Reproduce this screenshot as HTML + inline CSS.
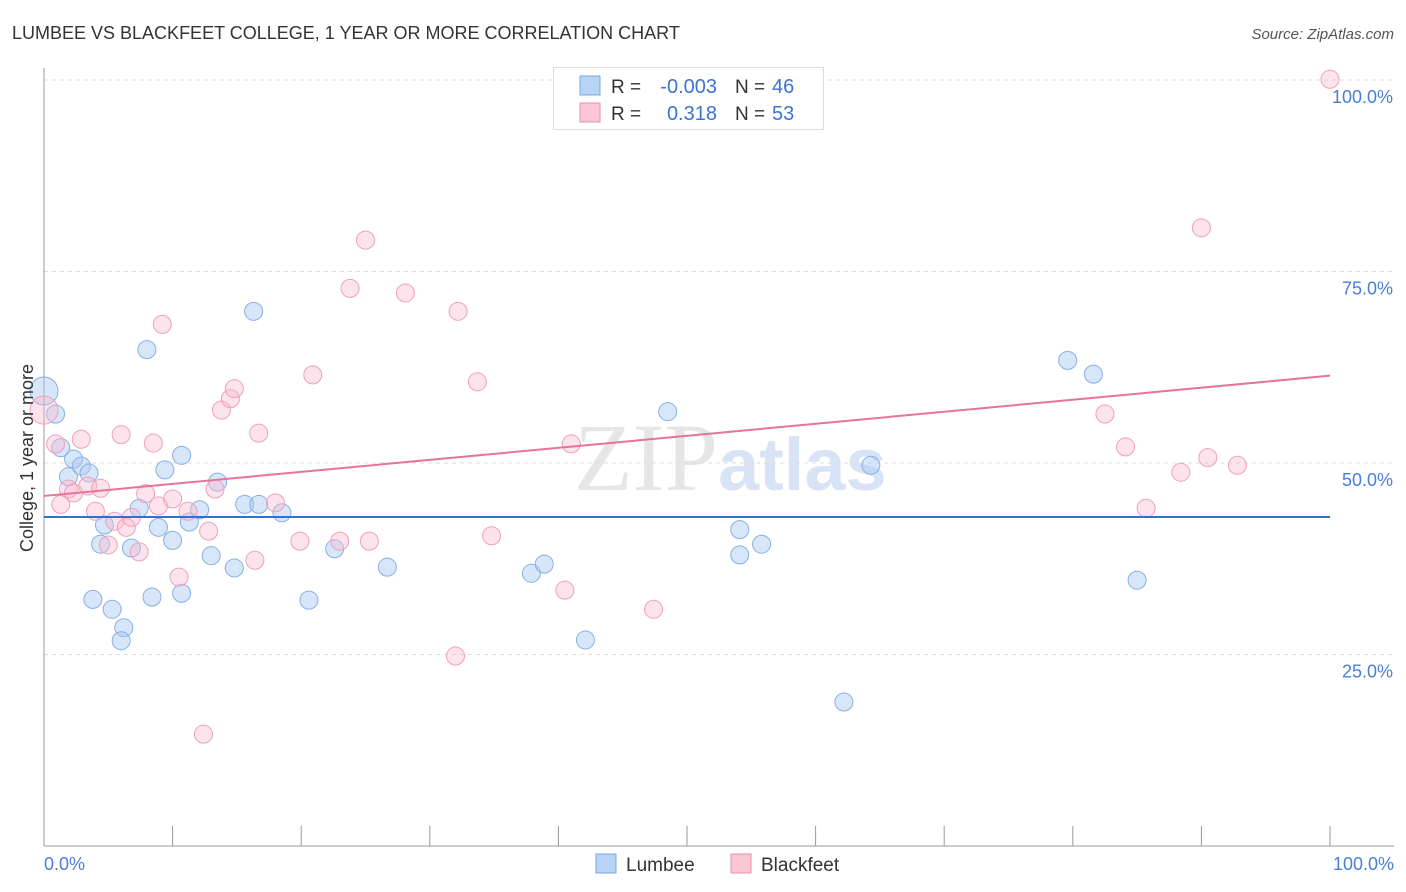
<!DOCTYPE html>
<html><head><meta charset="utf-8"><style>
body{margin:0;background:#fff;font-family:"Liberation Sans",sans-serif;}
svg{display:block}
</style></head><body>
<svg id="chart" width="1406" height="892">
<text x="12" y="39" font-size="18" fill="#333">LUMBEE VS BLACKFEET COLLEGE, 1 YEAR OR MORE CORRELATION CHART</text>
<text x="1394" y="39" font-size="15" fill="#555" font-style="italic" text-anchor="end">Source: ZipAtlas.com</text>
<text x="718" y="490" font-size="96" fill="#e6e6e6" text-anchor="end" font-family="Liberation Serif,serif">ZIP</text>
<text x="718" y="490" font-size="74" fill="#d8e4f5" font-weight="bold">atlas</text>
<g id="grid"></g>
<g id="axes"></g>
<g id="marks"></g>
<text x="33" y="458" font-size="18" fill="#333" text-anchor="middle" transform="rotate(-90 33 458)">College, 1 year or more</text>
<text x="44" y="870" font-size="18" fill="#4a7fd4">0.0%</text>
<text x="1394" y="870" font-size="18" fill="#4a7fd4" text-anchor="end">100.0%</text>
<g>
<rect x="553.5" y="67.5" width="270" height="62" fill="#fff" stroke="#ddd"/>
<rect x="580" y="76" width="20" height="19" fill="#b9d3f5" stroke="#7aa7e0"/>
<rect x="580" y="103" width="20" height="19" fill="#fbc7d6" stroke="#eb8fae"/>
<text x="611" y="93" font-size="19" fill="#333">R =</text>
<text x="717" y="93" font-size="20" fill="#3d73d0" text-anchor="end">-0.003</text>
<text x="735" y="93" font-size="19" fill="#333">N =</text>
<text x="772" y="93" font-size="20" fill="#3d73d0">46</text>
<text x="611" y="120" font-size="19" fill="#333">R =</text>
<text x="717" y="120" font-size="20" fill="#3d73d0" text-anchor="end">0.318</text>
<text x="735" y="120" font-size="19" fill="#333">N =</text>
<text x="772" y="120" font-size="20" fill="#3d73d0">53</text>
</g>
<g>
<rect x="596" y="854" width="20" height="19" fill="#b9d3f5" stroke="#7aa7e0"/>
<text x="626" y="871" font-size="19" fill="#333">Lumbee</text>
<rect x="731" y="854" width="20" height="19" fill="#fbc7d6" stroke="#eb8fae"/>
<text x="761" y="871" font-size="19" fill="#333">Blackfeet</text>
</g>
</svg>
<script>
const yTicks=[25,50,75,100];
const yTickLabels=["25.0%","50.0%","75.0%","100.0%"];
const xTickCount=10;
const lumbeeX=[0,0.9,1.3,2.3,1.9,2.9,3.5,4.4,4.7,3.8,5.3,6.2,6.0,6.8,7.4,8.0,8.4,8.9,9.4,10.0,10.7,10.7,11.3,12.1,13.0,13.5,14.8,15.6,16.3,16.7,18.5,20.6,22.6,26.7,37.9,38.9,42.1,48.5,54.1,54.1,55.8,62.2,64.3,79.6,81.6,85.0];
const lumbeeY=[59.4,56.4,52.0,50.5,48.2,49.6,48.7,39.4,41.9,32.2,30.9,28.5,26.8,38.9,44.1,64.8,32.5,41.6,49.1,39.9,33.0,51.0,42.3,43.9,37.9,47.5,36.3,44.6,69.8,44.6,43.5,32.1,38.8,36.4,35.6,36.8,26.9,56.7,41.3,38.0,39.4,18.8,49.7,63.4,61.6,34.7];
const blackfeetX=[0,0.9,1.3,1.9,2.3,2.9,3.4,4.0,4.4,5.0,5.5,6.0,6.4,6.8,7.4,7.9,8.5,8.9,9.2,10.0,10.5,11.2,12.4,12.8,13.3,13.8,14.5,14.8,16.4,16.7,18.0,19.9,20.9,23.0,23.8,25.0,25.3,28.1,32.0,32.2,33.7,34.8,40.5,41.0,47.4,82.5,84.1,85.7,88.4,90.0,90.5,92.8,100];
const blackfeetY=[56.9,52.5,44.6,46.6,46.1,53.1,47.0,43.7,46.7,39.3,42.4,53.7,41.6,42.9,38.4,46.0,52.6,44.4,68.1,45.3,35.1,43.7,14.6,41.1,46.6,56.9,58.4,59.7,37.3,53.9,44.8,39.8,61.5,39.8,72.8,79.1,39.8,72.2,24.8,69.8,60.6,40.5,33.4,52.5,30.9,56.4,52.1,44.1,48.8,80.7,50.7,49.7,100.1];
const lumbeeTrend=[42.95,42.95];
const blackfeetTrend=[45.7,61.4];
const NS="http://www.w3.org/2000/svg";
const X0=44,X1=1330,Y0=846,Y100=80;
function sx(v){return X0+(X1-X0)*v/100;}
function sy(v){return Y0-(Y0-Y100)*v/100;}
function mk(tag,attrs,parent){const e=document.createElementNS(NS,tag);for(const k in attrs)e.setAttribute(k,attrs[k]);parent.appendChild(e);return e;}
const grid=document.getElementById('grid'),axes=document.getElementById('axes'),marks=document.getElementById('marks');
yTicks.forEach((t,i)=>{
 const l=mk('line',{x1:44,x2:1394,y1:sy(t),y2:sy(t),stroke:'#ddd','stroke-dasharray':'4,4'},grid);
 
 
 const tx=mk('text',{x:1393,y:sy(t)+23,'font-size':18,fill:'#4a7fd4','text-anchor':'end'},axes);
 tx.textContent=yTickLabels[i];
 
 
});
let a=mk('line',{x1:44,x2:44,y1:68,y2:846,stroke:'#999'},axes);


a=mk('line',{x1:44,x2:1394,y1:846,y2:846,stroke:'#999'},axes);


for(let k=0;k<=xTickCount;k++){
 const t=mk('line',{x1:sx(k*10),x2:sx(k*10),y1:826,y2:846,stroke:'#999'},axes);
 
 
}
function pts(xs,ys,fill,stroke,name){
 xs.forEach((x,i)=>{
  const r=(x===0)?14:9;
  const c=mk('circle',{cx:sx(x),cy:sy(ys[i]),r:r,fill:fill,stroke:stroke,'stroke-width':1},marks);
  
  
 });
}
pts(lumbeeX,lumbeeY,'rgba(168,200,242,0.45)','#86b0e4','lumbee-point');
pts(blackfeetX,blackfeetY,'rgba(249,184,204,0.4)','#eea0bb','blackfeet-point');
let tl=mk('line',{x1:sx(0),x2:sx(100),y1:sy(lumbeeTrend[0]),y2:sy(lumbeeTrend[1]),stroke:'#2f6fd6','stroke-width':2},marks);


tl=mk('line',{x1:sx(0),x2:sx(100),y1:sy(blackfeetTrend[0]),y2:sy(blackfeetTrend[1]),stroke:'#e8729a','stroke-width':2},marks);


</script>
</body></html>
